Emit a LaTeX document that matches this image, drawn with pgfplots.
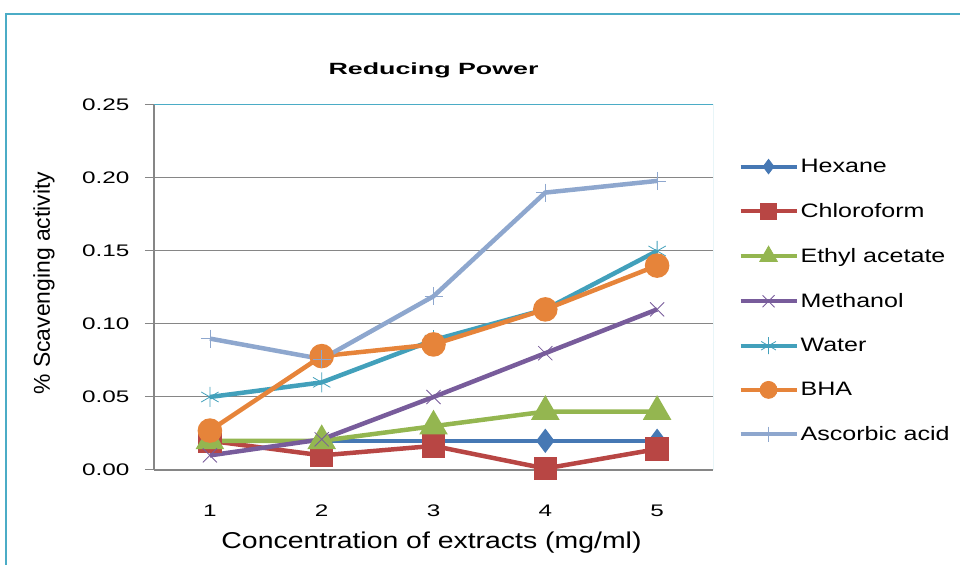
\documentclass[border=0pt]{standalone}
\usepackage{pgfplots}
\pgfplotsset{compat=1.18}
\usepackage{fontspec}
\setmainfont{Liberation Sans}
\newfontfamily\fTick{Liberation Sans}[FakeStretch=1.45]
\newfontfamily\fXlab{Liberation Sans}[FakeStretch=1.24]
\newfontfamily\fYlab{Liberation Sans}[FakeStretch=1.0]
\newfontfamily\fLeg{Liberation Sans}[FakeStretch=1.29]
\newfontfamily\fTitle{Liberation Sans}[FakeStretch=1.65]
\definecolor{cHex}{RGB}{70,120,180}
\definecolor{cChl}{RGB}{184,70,68}
\definecolor{cEth}{RGB}{148,182,80}
\definecolor{cMet}{RGB}{120,92,155}
\definecolor{cWat}{RGB}{66,160,187}
\definecolor{cBHA}{RGB}{230,132,58}
\definecolor{cAsc}{RGB}{142,167,206}
\definecolor{cFrame}{RGB}{75,172,198}
\definecolor{cGrid}{RGB}{134,134,134}
\begin{document}
\begin{tikzpicture}[x=1bp,y=1bp]
\useasboundingbox (0,0) rectangle (960,565);
\draw[cFrame, line width=2bp] (6,0) -- (6,551) -- (960,551);
\begin{axis}[
  at={(154bp,95bp)}, anchor=south west,
  scale only axis, width=559bp, height=365bp,
  xmin=0.5, xmax=5.5, ymin=0, ymax=0.25,
  xtick={1,2,3,4,5},
  xtick style={draw=none},
  extra x ticks={0.5,1.5,2.5,3.5,4.5,5.5},
  extra x tick labels={},
  extra x tick style={tick align=outside, major tick length=9bp, tick style={cGrid, line width=1bp}},
  ytick={0,0.05,0.1,0.15,0.2,0.25},
  ytick style={cGrid, line width=1bp},
  tick align=outside, major tick length=9bp,
  yticklabel style={/pgf/number format/fixed, /pgf/number format/fixed zerofill, /pgf/number format/precision=2},
  /pgf/number format/assume math mode=true,
  ticklabel style={font=\fTick\fontsize{16.8}{19}\selectfont},
  xticklabel style={yshift=-22bp},
  yticklabel style={xshift=-12bp},
  ymajorgrids, grid style={cGrid, line width=1bp},
  axis x line*=bottom, axis y line*=left,
  axis line style={cGrid, line width=1.5bp},
  title={\textbf{Reducing Power}},
  title style={at={(0.5,1)}, anchor=center, yshift=29bp, font=\fTitle\fontsize{16.3}{19}\selectfont},
  xlabel={Concentration of extracts (mg/ml)},
  xlabel style={at={(0.4964,-0.2)}, anchor=center, font=\fXlab\fontsize{23}{26}\selectfont},
  ylabel={\% Scavenging activity},
  ylabel style={at={(-0.1968,0.512)}, anchor=center, font=\fYlab\fontsize{23}{26}\selectfont},
  legend cell align=left,
  legend style={at={(1.04,0.863)}, anchor=north west, draw=none, fill=none,
    font=\fLeg\fontsize{19.5}{22}\selectfont, row sep=25.3bp,
    /tikz/every even column/.append style={column sep=2bp}},
  legend image code/.code={
    \draw[#1, mark=none, line width=4bp] (0bp,0bp) -- (56bp,0bp);
    \draw[#1, line width=0.8bp, scale=0.85] plot coordinates {(32.94bp,0bp)};
  },
  every axis plot/.append style={line width=4.5bp},
]
\addplot[cHex, mark=diamond*, mark size=8.5bp] coordinates {(1,0.02) (2,0.02) (3,0.02) (4,0.02) (5,0.02)};
\addlegendentry{Hexane}
\addplot[cChl, mark=square*, mark size=9.5bp] coordinates {(1,0.02) (2,0.010) (3,0.0165) (4,0.001) (5,0.0143)};
\addlegendentry{Chloroform}
\addplot[cEth, mark=triangle*, mark size=12bp] coordinates {(1,0.02) (2,0.02) (3,0.030) (4,0.040) (5,0.040)};
\addlegendentry{Ethyl acetate}
\addplot[cMet, mark=x, mark size=10bp, mark options={line width=0.8bp}] coordinates {(1,0.010) (2,0.021) (3,0.050) (4,0.080) (5,0.110)};
\addlegendentry{Methanol}
\addplot[cWat, mark=asterisk, mark size=10bp, mark options={line width=0.8bp}] coordinates {(1,0.050) (2,0.060) (3,0.089) (4,0.110) (5,0.150)};
\addlegendentry{Water}
\addplot[cBHA, mark=*, mark size=10bp] coordinates {(1,0.027) (2,0.078) (3,0.086) (4,0.110) (5,0.140)};
\addlegendentry{BHA}
\addplot[cAsc, mark=+, mark size=9bp, mark options={line width=0.8bp}] coordinates {(1,0.090) (2,0.076) (3,0.119) (4,0.190) (5,0.198)};
\addlegendentry{Ascorbic acid}
\draw[cFrame, line width=1bp] (rel axis cs:0,1) -- (rel axis cs:1,1) -- (rel axis cs:1,0);
\end{axis}
\end{tikzpicture}
\end{document}
